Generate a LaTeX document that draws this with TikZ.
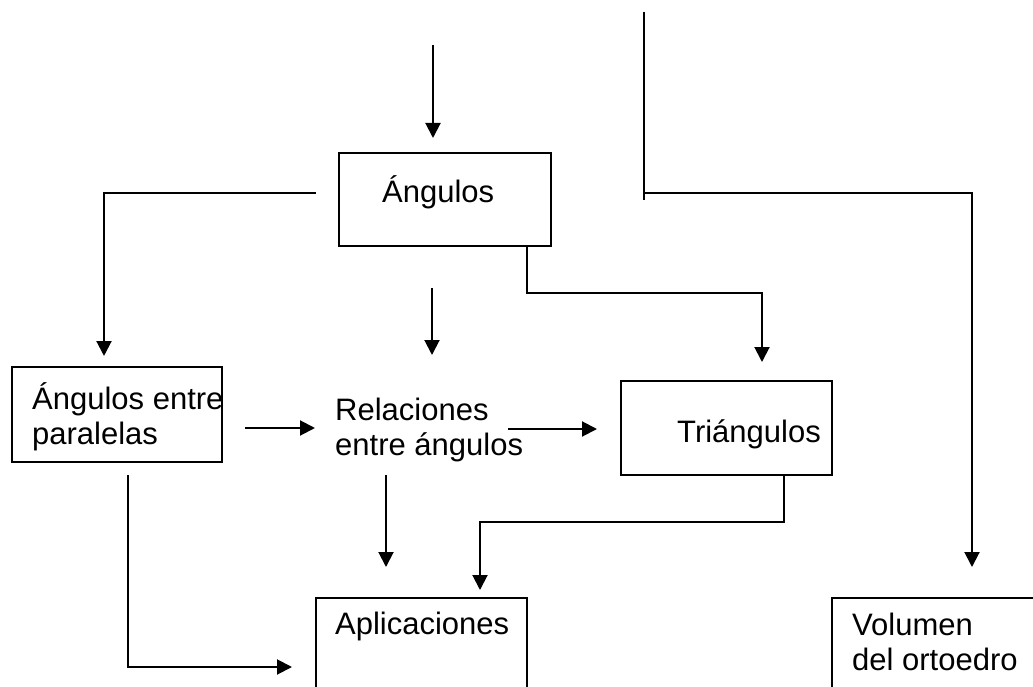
\documentclass[tikz,border=0pt]{standalone}
\usepackage{fontspec}
\setmainfont{Liberation Sans}
\usetikzlibrary{arrows.meta}
\tikzset{
  box/.style={draw, line width=2pt, anchor=north west, inner sep=0pt, outer sep=0pt},
  lbl/.style={anchor=base west, inner sep=0pt, align=left,
              font=\fontsize{31}{35}\selectfont},
  link/.style={line width=2pt},
  arr/.style={link, -{Triangle[width=15pt,length=15pt]}},
}
\begin{document}
\begin{tikzpicture}[x=1pt, y=-1pt]
\clip (0,0) rectangle (1033,687);
\fill[white] (0,0) rectangle (1033,687);

% boxes
\node[box, minimum width=212pt, minimum height=93pt] (ang) at (339,153) {};
\node[box, minimum width=210pt, minimum height=95pt] (par) at (12,367) {};
\node[box, minimum width=211pt, minimum height=94pt] (tri) at (621,381) {};
\node[box, minimum width=211pt, minimum height=110pt] (apl) at (316,598) {};
\node[box, minimum width=215pt, minimum height=110pt] (vol) at (832,598) {};

% labels (base = baseline of the last line)
\node[lbl] (tang) at (382,203) {Ángulos};
\node[lbl] (tpar) at (32,444) {Ángulos entre\\paralelas};
\node[lbl] (trel) at (335,455) {Relaciones\\entre ángulos};
\node[lbl] (ttri) at (677,442) {Triángulos};
\node[lbl] (tapl) at (335,634) {Aplicaciones};
\node[lbl] (tvol) at (852,670) {Volumen\\del ortoedro};

% connector end points
\coordinate (inA) at (433,45);
\coordinate (inAend) at (433,138);
\coordinate (angL) at (316,193);
\coordinate (parIn) at (104,356);
\coordinate (midS) at (432,288);
\coordinate (relIn) at (432,355);
\coordinate (angB) at (527,246);
\coordinate (triIn) at (762,362);
\coordinate (topS) at (644,12);
\coordinate (topE) at (644,200);
\coordinate (volIn) at (972,567);
\coordinate (parR) at (245,428);
\coordinate (relL) at (315,428);
\coordinate (relR) at (508,429);
\coordinate (triL) at (597,429);
\coordinate (relB) at (386,475);
\coordinate (aplIn1) at (386,567);
\coordinate (triB) at (784,475);
\coordinate (aplIn2) at (480,590);
\coordinate (parB) at (128,475);
\coordinate (aplL) at (292,667);

% connectors
\draw[arr] (inA) -- (inAend);
\draw[arr] (angL) -| (parIn);
\draw[arr] (midS) -- (relIn);
\draw[arr] (angB) |- (527,293) -| (triIn);
\draw[link] (topS) -- (topE);
\draw[arr] (644,193) -| (volIn);
\draw[arr] (parR) -- (relL);
\draw[arr] (relR) -- (triL);
\draw[arr] (relB) -- (aplIn1);
\draw[arr] (triB) |- (784,522) -| (aplIn2);
\draw[arr] (parB) |- (aplL);
\end{tikzpicture}
\end{document}
